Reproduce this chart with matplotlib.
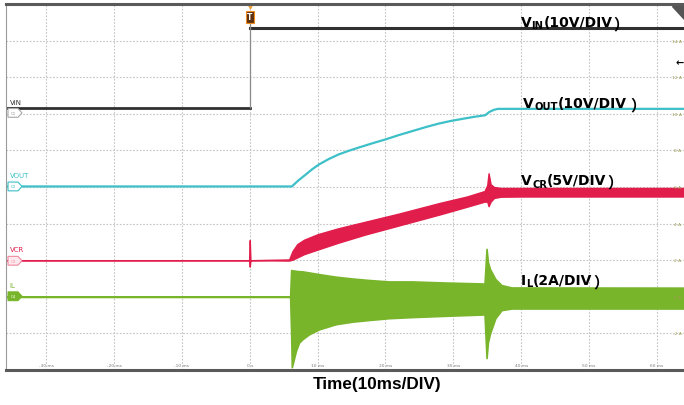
import matplotlib
matplotlib.use("Agg")
import matplotlib.pyplot as plt
from matplotlib.patches import Polygon
import matplotlib.transforms as mtransforms

# time base (ms) and scope divisions
t_min, t_max = -36, 64
grid_t = [-30, -20, -10, 0, 10, 20, 30, 40, 50, 60]
time_labels = ["-30 ms", "-20 ms", "-10 ms", "0 s", "10 ms", "20 ms", "30 ms", "40 ms", "50 ms", "60 ms"]
grid_y = [-2, 0, 2, 4, 6, 8, 10, 12, 14]
amp_labels = ["-2 A", "0 A", "2 A", "4 A", "6 A", "8 A", "10 A", "12 A", "14 A"]

# VIN step at the trigger point
vin_step_t = 0.0
vin_before = 10.3
vin_after = 14.68

# VOUT soft-start ramp
t_vout = [-36, 6.2, 6.7, 7.2, 8.25, 9.2, 10.2, 11.6, 13.1, 14.6, 16.1, 18.0, 20.0, 22.0, 24.0,
          26.0, 27.8, 29.5, 31.3, 33.0, 34.7, 35.3, 36.0, 36.6, 64]
vout = [6.03, 6.03, 6.2, 6.37, 6.68, 6.97, 7.23, 7.52, 7.78, 7.98, 8.16, 8.38, 8.6, 8.84, 9.06,
        9.28, 9.46, 9.6, 9.72, 9.83, 9.92, 10.1, 10.22, 10.27, 10.27]

# VCR ripple envelope
t_vcr = [-36, -0.1, 0, 0.1, 5.8, 6.3, 7.0, 8.0, 10.0, 13.0, 17.0, 22.0, 28.0, 32.0, 34.6, 35.0,
         35.2, 35.5, 36.0, 37.0, 40.0, 64]
vcr_hi = [2.0, 2.0, 3.1, 2.0, 2.04, 2.5, 2.88, 3.12, 3.42, 3.74, 4.1, 4.55, 5.13, 5.48, 5.78, 6.1,
          6.75, 6.15, 6.0, 5.95, 5.95, 5.95]
vcr_lo = [2.0, 2.0, 1.65, 2.0, 1.98, 2.03, 2.15, 2.33, 2.58, 2.95, 3.4, 3.9, 4.5, 4.92, 5.2, 5.2,
          4.95, 5.2, 5.4, 5.47, 5.48, 5.48]

# inductor current envelope
t_il = [-36, 5.95, 6.1, 6.2, 6.8, 7.27, 7.76, 8.74, 10.2, 12.66, 15.1, 17.5, 20.5, 23.9, 28.8, 34.2,
        34.6, 34.9, 35.1, 35.4, 36.2, 37.1, 38.6, 64]
il_hi = [0, 0, 1.46, 1.45, 1.42, 1.40, 1.39, 1.33, 1.24, 1.10, 1.0, 0.92, 0.84, 0.84, 0.78, 0.73,
         0.72, 2.62, 1.9, 1.52, 0.97, 0.64, 0.51, 0.50]
il_lo = [0, 0, -2.0, -3.85, -2.96, -2.5, -2.32, -2.05, -1.78, -1.5, -1.36, -1.27, -1.17, -1.11, -1.04,
         -0.97, -0.96, -3.35, -2.5, -2.01, -1.17, -0.73, -0.64, -0.64]

c_vin = "#303030"
c_vout = "#3dc0c8"
c_vcr = "#e11d4b"
c_il = "#78b52b"

fig = plt.figure(figsize=(6.84, 4.06), dpi=100)
ax = fig.add_axes([5.5 / 684, 35 / 406, 678.5 / 684, 366 / 406])
ax.set_xlim(t_min, t_max)
ax.set_ylim(-4, 16)
ax.set_xticks(grid_t)
ax.set_yticks(grid_y)
ax.set_axisbelow(True)
ax.tick_params(length=0, labelbottom=False, labelleft=False)
ax.grid(color="#c4c4c4", linestyle=(0, (1.5, 1.5)), linewidth=0.8)
ax.spines["top"].set_linewidth(2.2)
ax.spines["top"].set_color("#5a5a5a")
ax.spines["bottom"].set_linewidth(2.2)
ax.spines["bottom"].set_color("#5a5a5a")
ax.spines["left"].set_color("#9a9a9a")
ax.spines["right"].set_visible(False)

# scale labels inside the graticule
for t, lab in zip(grid_t, time_labels):
    ax.text(t, -3.72, lab, fontsize=3.2, color="#7a7a7a", ha="center", va="center")
for y, lab in zip(grid_y, amp_labels):
    ax.text(0.99, y, lab, transform=ax.get_yaxis_transform(), fontsize=3.2,
            color="#a09a50", ha="center", va="center")

# traces
ax.plot([t_min, vin_step_t], [vin_before, vin_before], color=c_vin, lw=2)
ax.plot([vin_step_t, t_max], [vin_after, vin_after], color=c_vin, lw=2.2)
ax.vlines(vin_step_t, vin_before, 15.3, color="#8a8a8a", lw=0.9)
ax.plot(t_vout, vout, color=c_vout, lw=1.6)
ax.fill_between(t_vcr, vcr_lo, vcr_hi, color=c_vcr, lw=1.0, edgecolor=c_vcr)
ax.fill_between(t_il, il_lo, il_hi, color=c_il, lw=1.2, edgecolor=c_il)

# trigger marker
ax.plot(vin_step_t, 15.9, marker="v", color="#f0a040", ms=3.5, clip_on=False)
ax.text(vin_step_t, 15.3, "T", fontsize=5.5, color="white", ha="center", va="center",
        fontweight="bold",
        bbox=dict(boxstyle="square,pad=0.2", fc="#5a3212", ec="#f08c1e", lw=0.8))

# top-right corner flag and offset arrow
ax.add_patch(Polygon([(0.982, 0.9945), (1.0, 0.9945), (1.0, 0.96)], closed=True,
                     transform=ax.transAxes, color="#555555"))
ax.text(0.993, 12.8, "\u2190", transform=ax.get_yaxis_transform(), fontsize=7,
        fontweight="bold", ha="center", va="center")

# channel tags on the left edge
tag_tf = mtransforms.blended_transform_factory(ax.transAxes, ax.transData)
channels = [
    ("C1", "VIN", 10.05, "#a8a8a8", "white", "#909090", c_vin),
    ("C2", "VOUT", 6.03, c_vout, "white", c_vout, c_vout),
    ("C3", "VCR", 1.97, "#f08aa0", "#fde8ee", "#f08aa0", c_vcr),
    ("C4", "IL", 0.03, c_il, c_il, "white", c_il),
]
x0, x1, x2 = 0.0037, 0.0184, 0.0243
for tag, name, y, ec, fc, tc, nc in channels:
    h = 0.24
    ax.add_patch(Polygon([(x0, y - h), (x1, y - h), (x2, y), (x1, y + h), (x0, y + h)],
                         closed=True, transform=tag_tf, ec=ec, fc=fc, lw=0.8, zorder=5))
    ax.text((x0 + x1) / 2 + 0.001, y, tag, transform=tag_tf, fontsize=2.8, color=tc,
            ha="center", va="center", zorder=6)
    ax.text(0.006, y + 0.62, name, transform=tag_tf, fontsize=5, color=nc,
            ha="left", va="center")


def scope_label(x, y, main, sub, rest, gap):
    # channel name with subscript, scale text and a full-width closing bracket
    t1 = ax.text(x, y, main, fontsize=10, fontweight="bold", family="DejaVu Sans",
                 va="baseline")
    t2 = ax.annotate(sub, xy=(1, 0), xycoords=t1, xytext=(0.2, -0.8),
                     textcoords="offset points", fontsize=7.2, fontweight="bold",
                     family="DejaVu Sans", va="bottom")
    t3 = ax.annotate(rest, xy=(1, 0), xycoords=(t2, t1), fontsize=10, fontweight="bold",
                     family="DejaVu Sans", va="bottom")
    ax.annotate("\uff09", xy=(1, 0), xycoords=(t3, t1), xytext=(gap, -1.6),
                textcoords="offset points", fontsize=11, fontweight="heavy",
                family="Noto Sans CJK SC", va="bottom")


scope_label(39.9, 14.79, "V", "IN", "(10V/DIV", 0.6)
scope_label(40.3, 10.36, "V", "OUT", "(10V/DIV", 2.5)
scope_label(40.0, 6.14, "V", "CR", "(5V/DIV", 0.6)
scope_label(40.0, 0.71, "I", "L", "(2A/DIV", 0.6)

fig.text(0.551, 0.052, "Time(10ms/DIV)", fontsize=12.3, fontweight="bold",
         family="Liberation Sans", ha="center", va="center")

fig.savefig("out.png", dpi=100)
